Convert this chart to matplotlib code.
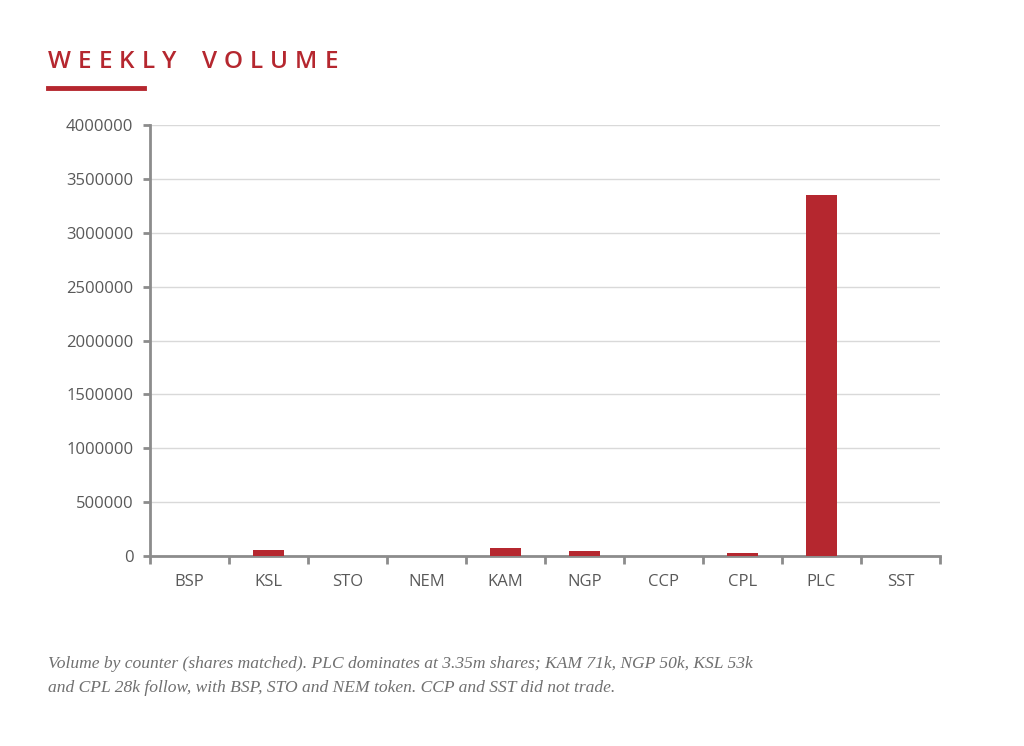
import matplotlib.pyplot as plt
from matplotlib.ticker import FixedLocator, NullFormatter

# Weekly volume by counter (shares matched)
counters = ["BSP", "KSL", "STO", "NEM", "KAM", "NGP", "CCP", "CPL", "PLC", "SST"]
volumes = [1500, 53000, 1200, 1000, 71000, 50000, 0, 28000, 3350000, 0]
y_ticks = [0, 500000, 1000000, 1500000, 2000000, 2500000, 3000000, 3500000, 4000000]
title = "WEEKLY VOLUME"

RED = "#B5272F"
AXIS_GREY = "#8C8C8C"
TEXT_GREY = "#595959"

fig = plt.figure(figsize=(10.24, 7.46), dpi=100)
ax = fig.add_axes([150 / 1024, 1 - 556 / 746, 790 / 1024, 431 / 746])

x = range(len(counters))
ax.bar(x, volumes, width=0.4, color=RED, zorder=3)

ax.set_xlim(-0.5, len(counters) - 0.5)
ax.set_ylim(0, 4000000)
ax.set_yticks(y_ticks)
ax.set_yticklabels([str(v) for v in y_ticks], fontfamily="Open Sans",
                   fontsize=12, color=TEXT_GREY)
ax.yaxis.grid(True, color="#D9D9D9", linewidth=1, zorder=0)

# category labels centred, tick marks between categories
ax.set_xticks(list(x))
ax.set_xticklabels(counters, fontfamily="Open Sans", fontsize=12, color=TEXT_GREY)
ax.tick_params(axis="x", which="major", length=0, pad=13)
ax.xaxis.set_minor_locator(FixedLocator([i - 0.5 for i in range(len(counters) + 1)]))
ax.xaxis.set_minor_formatter(NullFormatter())
ax.tick_params(axis="x", which="minor", length=6, width=2, color=AXIS_GREY)
ax.tick_params(axis="y", length=5, width=2, color=AXIS_GREY, pad=7)

for side in ["top", "right"]:
    ax.spines[side].set_visible(False)
for side in ["left", "bottom"]:
    ax.spines[side].set_color(AXIS_GREY)
    ax.spines[side].set_linewidth(2)

# header: letter-spaced, placed glyph by glyph using measured widths
renderer = fig.canvas.get_renderer()
tracking = 7.0  # px between glyphs
cursor = 48.0
for ch in title:
    if ch == " ":
        cursor += 19
        continue
    t = fig.text(cursor / 1024, 1 - 62 / 746, ch, fontfamily="Open Sans",
                 fontweight="semibold", fontsize=17.5, color=RED, va="center", ha="left")
    cursor += t.get_window_extent(renderer).width + tracking
fig.add_artist(plt.Line2D([48 / 1024, 144 / 1024], [1 - 88 / 746, 1 - 88 / 746],
                          color=RED, linewidth=3.5, transform=fig.transFigure))

caption = ("Volume by counter (shares matched). PLC dominates at 3.35m shares; KAM 71k, NGP 50k, KSL 53k\n"
           "and CPL 28k follow, with BSP, STO and NEM token. CCP and SST did not trade.")
fig.text(48 / 1024, 1 - 676 / 746, caption, fontfamily="Liberation Serif", style="italic",
         fontsize=12.6, color="#707070", va="center", ha="left", linespacing=1.65)

fig.savefig("out.png", dpi=100, facecolor="white")
